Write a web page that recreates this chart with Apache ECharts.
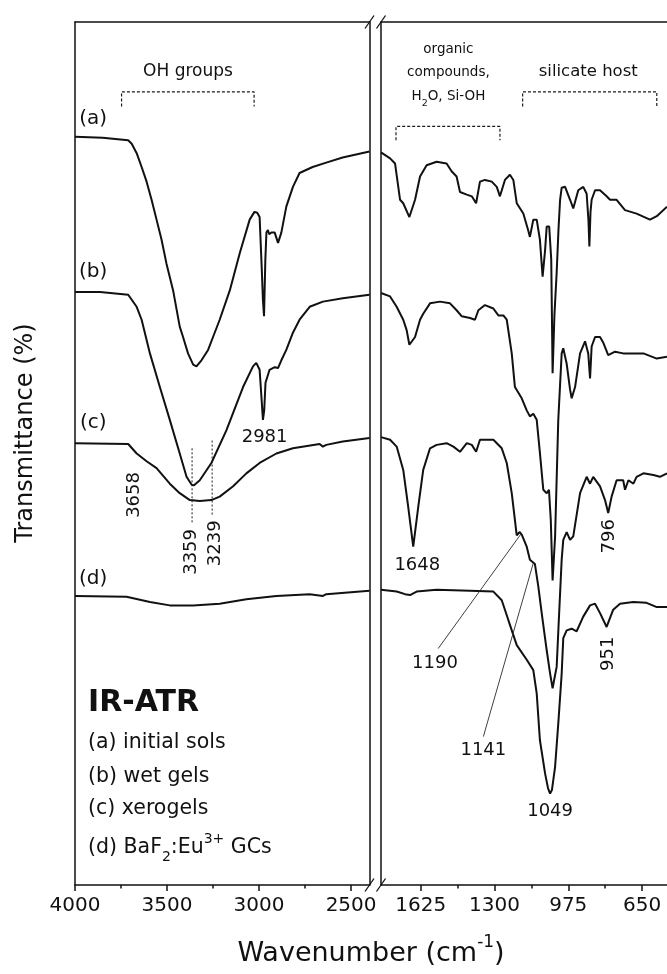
<!DOCTYPE html>
<html>
<head>
<meta charset="utf-8">
<script src="https://cdn.jsdelivr.net/npm/echarts@6/dist/echarts.min.js"></script>
<style>html,body{margin:0;padding:0;background:#fff}#c{width:667px;height:974px}</style>
</head>
<body>
<div id="c"></div>
<script>
// ---------- DATA (wavenumber cm-1, transmittance a.u.) ----------
const traceA_high = [[4000,86.7],[3850,86.6],[3711,86.3],[3692,85.9],[3665,84.8],[3638,83.2],[3611,81.5],[3584,79.4],[3557,77.1],[3530,74.8],[3503,72.0],[3467,68.9],[3431,64.7],[3413,63.5],[3386,61.6],[3358,60.3],[3340,60.1],[3313,60.8],[3277,62.0],[3250,63.5],[3214,65.5],[3159,68.9],[3105,73.2],[3051,77.1],[3025,78.0],[3010,77.9],[2997,77.4],[2985,71.2],[2979,67.8],[2973,65.9],[2966,72.4],[2960,75.6],[2952,75.9],[2945,75.4],[2933,75.6],[2915,75.6],[2897,74.4],[2879,75.6],[2852,78.6],[2816,80.9],[2780,82.5],[2709,83.2],[2635,83.7],[2546,84.3],[2400,85.0]];
const traceB_high = [[4000,68.7],[3864,68.7],[3711,68.4],[3665,67.0],[3638,65.5],[3593,61.6],[3539,57.7],[3485,53.9],[3431,50.0],[3394,47.3],[3367,46.4],[3355,46.3],[3322,46.9],[3259,48.9],[3177,52.7],[3087,57.7],[3033,60.1],[3015,60.5],[2997,59.7],[2986,56.2],[2979,53.9],[2972,55.0],[2965,58.2],[2943,59.7],[2915,60.0],[2897,59.9],[2879,60.8],[2852,62.0],[2816,64.0],[2780,65.5],[2725,67.0],[2653,67.6],[2545,68.0],[2400,68.4]];
const traceC_high = [[4000,51.2],[3711,51.1],[3665,50.0],[3611,49.1],[3557,48.3],[3485,46.5],[3431,45.4],[3376,44.6],[3322,44.5],[3259,44.6],[3214,45.0],[3141,46.2],[3069,47.7],[2997,48.9],[2906,50.0],[2816,50.6],[2671,51.1],[2653,50.8],[2635,51.0],[2545,51.4],[2400,51.8]];
const traceD_high = [[4000,33.5],[3720,33.4],[3593,32.8],[3485,32.4],[3358,32.4],[3214,32.6],[3069,33.1],[2906,33.5],[2725,33.7],[2653,33.5],[2635,33.7],[2400,34.1]];

const traceA_low = [[1800,84.9],[1760,84.2],[1738,83.6],[1716,79.4],[1702,79.0],[1675,77.4],[1650,79.4],[1628,82.1],[1599,83.4],[1555,83.8],[1511,83.6],[1489,82.7],[1467,82.1],[1452,80.3],[1422,80.0],[1400,79.8],[1381,79.0],[1364,81.5],[1342,81.7],[1312,81.5],[1290,80.9],[1276,79.8],[1254,81.7],[1232,82.3],[1217,81.7],[1202,79.0],[1173,77.8],[1151,75.8],[1144,75.1],[1129,77.1],[1114,77.1],[1100,74.8],[1088,70.5],[1077,73.6],[1070,76.3],[1059,76.3],[1050,72.5],[1044,59.3],[1036,66.0],[1026,71.0],[1018,76.0],[1011,79.4],[1004,80.8],[989,80.9],[967,79.4],[953,78.4],[931,80.5],[909,80.9],[894,80.1],[886,77.0],[882,74.0],[877,78.0],[872,79.4],[857,80.5],[835,80.5],[806,79.8],[791,79.4],[762,79.4],[725,78.2],[674,77.8],[615,77.1],[585,77.5],[540,78.6]];
const traceB_low = [[1800,68.6],[1760,68.2],[1731,67.0],[1702,65.5],[1687,64.3],[1675,62.6],[1650,63.5],[1628,65.5],[1614,66.2],[1584,67.4],[1540,67.6],[1496,67.4],[1467,66.6],[1444,65.9],[1408,65.7],[1386,65.5],[1371,66.6],[1342,67.2],[1305,66.8],[1283,66.0],[1261,66.0],[1246,65.5],[1224,61.6],[1210,57.7],[1180,56.4],[1158,55.0],[1144,54.3],[1129,54.6],[1114,53.9],[1100,50.1],[1085,45.8],[1070,45.4],[1060,45.8],[1052,42.3],[1044,35.3],[1033,40.4],[1019,53.9],[1004,61.6],[997,62.2],[982,60.4],[967,57.4],[960,56.4],[945,57.7],[923,61.6],[901,63.0],[887,61.6],[879,58.7],[872,62.4],[857,63.5],[835,63.5],[820,62.8],[799,61.4],[769,61.8],[733,61.6],[688,61.6],[644,61.6],[585,61.0],[540,61.2]];
const traceC_low = [[1800,51.9],[1760,51.6],[1731,50.8],[1702,48.1],[1680,43.8],[1658,39.2],[1636,43.8],[1614,48.1],[1584,50.6],[1555,51.0],[1511,51.2],[1481,50.8],[1452,50.2],[1422,51.2],[1400,51.0],[1381,50.2],[1364,51.6],[1305,51.6],[1268,50.6],[1246,48.9],[1224,45.4],[1202,40.5],[1190,40.9],[1180,40.6],[1158,39.2],[1144,37.7],[1136,37.5],[1122,37.2],[1107,34.6],[1092,31.5],[1070,27.2],[1055,24.5],[1044,22.8],[1026,25.3],[1018,29.9],[1004,37.7],[997,40.0],[982,40.9],[967,40.0],[953,40.4],[923,45.4],[894,47.3],[879,46.5],[865,47.3],[835,46.2],[813,44.6],[799,43.1],[784,45.0],[762,46.9],[733,46.9],[725,45.8],[710,46.9],[688,46.5],[674,47.3],[644,47.7],[600,47.5],[571,47.3],[540,47.7]];
const traceD_low = [[1800,34.2],[1731,34.0],[1694,33.7],[1672,33.6],[1643,34.0],[1555,34.2],[1408,34.1],[1305,34.0],[1268,33.0],[1239,30.7],[1202,27.8],[1158,26.1],[1129,24.9],[1114,22.2],[1100,16.8],[1077,12.9],[1064,11.2],[1055,10.6],[1047,11.0],[1033,13.7],[1019,18.7],[1004,24.5],[997,28.6],[982,29.5],[960,29.7],[938,29.4],[909,31.1],[879,32.4],[857,32.6],[835,31.5],[806,29.9],[777,31.9],[747,32.6],[689,32.8],[630,32.7],[585,32.2],[540,32.2]];

// axis ranges and tick values
const highRange = [2400, 4000];
const lowRange = [540, 1800];
const highMajorTicks = [4000, 3500, 3000, 2500];
const highMinorTicks = [3750, 3250, 2750];
const lowMajorTicks = [1625, 1300, 975, 650];
const lowMinorTicks = [1462.5, 1137.5, 812.5];

// annotations (text, anchor wavenumber, anchor transmittance)
const highNotes = [
  {text:'OH groups', wn:3386, t:94.2, kind:'head'},
  {text:'(a)', wn:3901, t:88.8, kind:'tag'},
  {text:'(b)', wn:3901, t:71.1, kind:'tag'},
  {text:'(c)', wn:3901, t:53.5, kind:'tag'},
  {text:'(d)', wn:3901, t:35.5, kind:'tag'},
  {text:'2981', wn:2970, t:51.9, kind:'peak'},
  {text:'3658', wn:3675, t:45.2, kind:'vpeak'},
  {text:'3359', wn:3367, t:38.6, kind:'vpeak'},
  {text:'3239', wn:3235, t:39.6, kind:'vpeak'}
];
const lowNotes = [
  {text:'{n|organic}\n{n|compounds,}\n{n|H}{sub|2}{n|O, Si-OH}', wn:1503, t:94.1, kind:'small'},
  {text:'silicate host', wn:887, t:94.2, kind:'head2'},
  {text:'1648', wn:1640, t:37.0, kind:'peak'},
  {text:'796', wn:794, t:40.4, kind:'vpeak'},
  {text:'1190', wn:1562, t:25.7, kind:'peak'},
  {text:'1141', wn:1349, t:15.6, kind:'peak'},
  {text:'1049', wn:1055, t:8.5, kind:'peak'},
  {text:'951', wn:799, t:26.8, kind:'vpeak'}
];
const highBrackets = [ [[3747,90.2],[3747,91.9],[3027,91.9],[3027,90.2]] ];
const lowBrackets = [ [[1734,86.3],[1734,87.9],[1276,87.9],[1276,86.3]], [[1176,90.2],[1176,91.9],[585,91.9],[585,90.2]] ];
const highGuides = [ [[3364,50.6],[3364,41.9]], [[3255,51.5],[3255,42.7]] ];
const lowLeaders = [ [[1548,27.4],[1180,40.8]], [[1349,17.2],[1129,37.3]] ];

// ---------- STYLE ----------
const FONT = '"DejaVu Sans", sans-serif';
const INK = '#111111';
const kindStyle = {
  head:{fontSize:17}, head2:{fontSize:16.5}, tag:{fontSize:20}, peak:{fontSize:18},
  vpeak:{fontSize:18, rotate:90},
  small:{fontSize:13.5, lineHeight:23.5, rich:{
    n:{fontSize:13.5, lineHeight:23.5, color:INK, fontFamily:FONT},
    sub:{fontSize:9.5, lineHeight:18, verticalAlign:'bottom', color:INK, fontFamily:FONT}}}
};

function xAxes(grid, range, major, minor) {
  const base = {gridIndex:grid, type:'value', inverse:true, min:range[0], max:range[1], splitLine:{show:false}};
  return [
    Object.assign({}, base, {position:'bottom',
      axisLine:{show:true, onZero:false, lineStyle:{color:INK, width:1.5}},
      axisTick:{show:true, inside:false, length:6, customValues:major, lineStyle:{color:INK, width:1.5}},
      axisLabel:{show:true, customValues:major, margin:11, fontSize:20, fontFamily:FONT, color:INK,
        formatter: v => String(v)}}),
    Object.assign({}, base, {position:'bottom',
      axisLine:{show:false, onZero:false},
      axisTick:{show:true, inside:false, length:3.5, customValues:minor, lineStyle:{color:INK, width:1.5}},
      axisLabel:{show:false}}),
    Object.assign({}, base, {position:'top',
      axisLine:{show:true, onZero:false, lineStyle:{color:INK, width:1.5}},
      axisTick:{show:false}, axisLabel:{show:false}})
  ];
}
function yAxis(grid, pos) {
  return {gridIndex:grid, type:'value', min:0, max:100, position:pos,
    axisLine:{show:true, onZero:false, lineStyle:{color:INK, width:1.5}},
    axisTick:{show:false}, axisLabel:{show:false}, splitLine:{show:false}};
}
function lineSeries(data, xi, yi) {
  return {type:'line', xAxisIndex:xi, yAxisIndex:yi, data:data, showSymbol:false, symbol:'none',
    smooth:false, silent:true, animation:false, z:3, lineStyle:{color:INK, width:2}};
}
function noteSeries(notes, xi, yi) {
  return {type:'scatter', xAxisIndex:xi, yAxisIndex:yi, symbolSize:0, silent:true, z:5,
    itemStyle:{opacity:1, color:INK},
    data: notes.map(n => ({value:[n.wn, n.t],
      label:Object.assign({show:true, position:'inside', formatter:n.text, color:INK, opacity:1,
        textBorderWidth:0, fontFamily:FONT, align:'center', verticalAlign:'middle'}, kindStyle[n.kind])}))};
}
function decoSeries(list, xi, yi, style) {
  return list.map(d => ({type:'line', xAxisIndex:xi, yAxisIndex:yi, data:d, showSymbol:false, symbol:'none',
    silent:true, animation:false, z:4, lineStyle:style}));
}

const bracketStyle = {color:'#1a1a1a', width:1.2, type:[3,2]};
const guideStyle = {color:'#1a1a1a', width:1, type:[2,2]};
const leaderStyle = {color:'#2a2a2a', width:0.9};

const chart = echarts.init(document.getElementById('c'), null, {renderer:'canvas'});

const gridTop = 22, gridH = 863;
const slashes = [];
[369.5, 381].forEach(x => [gridTop, gridTop + gridH].forEach(y => {
  slashes.push({type:'line', shape:{x1:x-4.5, y1:y+6.5, x2:x+4.5, y2:y-6.5}, style:{stroke:INK, lineWidth:1.3}, z:10});
}));

const legendRich = {
  n:{fontSize:20.5, lineHeight:32, fill:INK, fontFamily:FONT},
  sub:{fontSize:14, lineHeight:20, verticalAlign:'bottom', fill:INK, fontFamily:FONT},
  sup:{fontSize:14, lineHeight:20, verticalAlign:'top', fill:INK, fontFamily:FONT}
};
const legendLines = [
  {text:'{n|(a) initial sols}', y:743},
  {text:'{n|(b) wet gels}', y:776.5},
  {text:'{n|(c) xerogels}', y:808.5},
  {text:'{n|(d) BaF}{sub|2}{n|:Eu}{sup|3+}{n| GCs}', y:848}
];

chart.setOption({
  animation:false,
  backgroundColor:'#fff',
  grid:[
    {left:75, top:gridTop, width:294.5, height:gridH, containLabel:false},
    {left:381, top:gridTop, width:286, height:gridH, containLabel:false}
  ],
  xAxis: xAxes(0, highRange, highMajorTicks, highMinorTicks).concat(xAxes(1, lowRange, lowMajorTicks, lowMinorTicks)),
  yAxis: [yAxis(0,'left'), yAxis(0,'right'), yAxis(1,'left')],
  series: [
    lineSeries(traceA_high,0,0), lineSeries(traceB_high,0,0), lineSeries(traceC_high,0,0), lineSeries(traceD_high,0,0),
    lineSeries(traceA_low,3,2), lineSeries(traceB_low,3,2), lineSeries(traceC_low,3,2), lineSeries(traceD_low,3,2),
    noteSeries(highNotes,0,0), noteSeries(lowNotes,3,2)
  ].concat(decoSeries(highBrackets,0,0,bracketStyle))
   .concat(decoSeries(lowBrackets,3,2,bracketStyle))
   .concat(decoSeries(highGuides,0,0,guideStyle))
   .concat(decoSeries(lowLeaders,3,2,leaderStyle)),
  graphic: slashes.concat([
    {type:'text', x:26, y:433, rotation:Math.PI/2, z:10,
      style:{text:'Transmittance (%)', font:'24px ' + FONT, fill:INK, textAlign:'center', textVerticalAlign:'middle', align:'center', verticalAlign:'middle'}},
    {type:'text', x:371, y:954, z:10,
      style:{text:'{n|Wavenumber (cm}{sup|-1}{n|)}', fill:INK, align:'center', verticalAlign:'middle', textAlign:'center', textVerticalAlign:'middle',
        rich:{n:{fontSize:27, lineHeight:40, fill:INK, fontFamily:FONT}, sup:{fontSize:17, lineHeight:24, verticalAlign:'top', fill:INK, fontFamily:FONT}}}},
    {type:'text', x:88, y:703, z:10,
      style:{text:'IR-ATR', font:'bold 30px ' + FONT, fill:INK, textAlign:'left', textVerticalAlign:'middle', align:'left', verticalAlign:'middle'}}
  ]).concat(legendLines.map(l => ({type:'text', x:88, y:l.y, z:10,
      style:{text:l.text, rich:legendRich, fill:INK, textAlign:'left', textVerticalAlign:'middle', align:'left', verticalAlign:'middle'}})))
});
</script>
</body>
</html>
